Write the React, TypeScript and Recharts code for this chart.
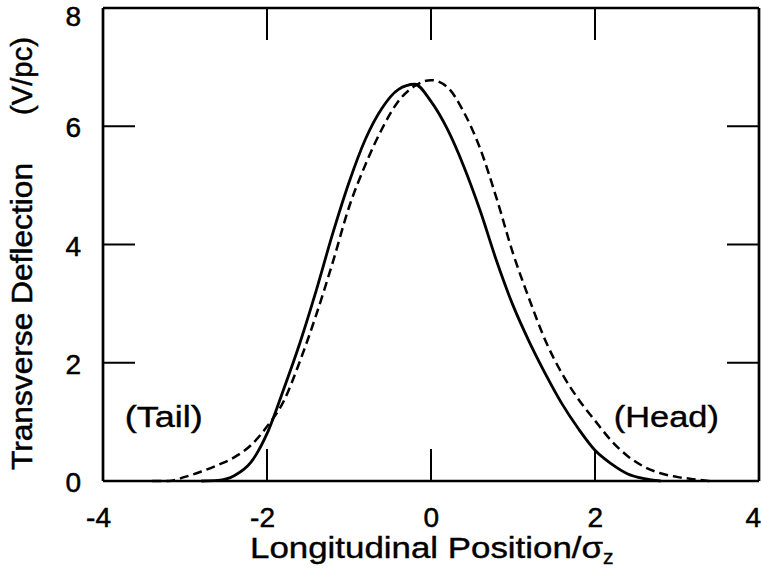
import { Line, LineChart, ReferenceDot, ReferenceLine, XAxis, YAxis } from "recharts";

// longitudinal position (units of sigma_z)
const POSITIONS = [
  -4, -3.8, -3.6, -3.4, -3.2, -3, -2.8, -2.6, -2.4, -2.2, -2, -1.8, -1.6, -1.4, -1.2, -1, -0.8, -0.6, -0.4, -0.2, 0,
  0.2, 0.4, 0.6, 0.8, 1, 1.2, 1.4, 1.6, 1.8, 2, 2.2, 2.4, 2.6, 2.8, 3, 3.2, 3.4, 3.6, 3.8, 4,
];

// transverse deflection (V/pc), solid curve
const SOLID = [
  null, null, null, null, null, null, 0, 0.01, 0.09, 0.31, 0.8, 1.54, 2.33, 3.22, 4.18, 5.05, 5.78, 6.3, 6.62, 6.71, 6.42,
  5.95, 5.32, 4.57, 3.72, 2.97, 2.35, 1.8, 1.3, 0.88, 0.52, 0.29, 0.12, 0.04, 0, null, null, null, null, null, null,
];

// transverse deflection (V/pc), dashed curve
const DASHED = [
  null, null, null, 0, 0, 0.07, 0.16, 0.27, 0.4, 0.6, 0.92, 1.34, 2.02, 2.81, 3.69, 4.63, 5.35, 5.95, 6.42, 6.68, 6.78,
  6.66, 6.24, 5.62, 4.78, 3.85, 3.07, 2.36, 1.81, 1.38, 1.02, 0.68, 0.42, 0.24, 0.13, 0.07, 0.03, 0, null, null, null,
];

const X_TICKS = [-4, -2, 0, 2, 4];
const Y_TICKS = [0, 2, 4, 6, 8];

const WIDTH = 762;
const HEIGHT = 570;
const LEFT = 103;
const RIGHT = 759;
const TOP = 8;
const BOTTOM = 481;
const Y_AXIS_W = 60;
const X_AXIS_H = 70;
const TICK_LEN = 32;
const FONT = "'Liberation Sans', Arial, Helvetica, sans-serif";

const rows = POSITIONS.map((x, i) => ({ x, solid: SOLID[i], dashed: DASHED[i] }));

function XTick(props: any) {
  const { x, payload } = props;
  const v = payload.value as number;
  const inner = v !== X_TICKS[0] && v !== X_TICKS[X_TICKS.length - 1];
  return (
    <g>
      {inner && <line x1={x} x2={x} y1={BOTTOM} y2={BOTTOM - TICK_LEN} stroke="#000" strokeWidth={2} />}
      {inner && <line x1={x} x2={x} y1={TOP} y2={TOP + TICK_LEN} stroke="#000" strokeWidth={2} />}
      <text
        x={Math.min(x + 8, WIDTH - 1)}
        y={527}
        textAnchor="end"
        fontSize={28}
        fontFamily={FONT}
        fill="#000"
        stroke="#000"
        strokeWidth={0.5}
      >
        {v}
      </text>
    </g>
  );
}

function YTick(props: any) {
  const { y, payload } = props;
  const v = payload.value as number;
  const inner = v !== Y_TICKS[0] && v !== Y_TICKS[Y_TICKS.length - 1];
  return (
    <g>
      {inner && <line x1={LEFT} x2={LEFT + TICK_LEN} y1={y} y2={y} stroke="#000" strokeWidth={2} />}
      {inner && <line x1={RIGHT} x2={RIGHT - TICK_LEN} y1={y} y2={y} stroke="#000" strokeWidth={2} />}
      <text
        x={81}
        y={Math.max(y + 11, 26)}
        textAnchor="end"
        fontSize={28}
        fontFamily={FONT}
        fill="#000"
        stroke="#000"
        strokeWidth={0.5}
      >
        {v}
      </text>
    </g>
  );
}

function YLabel() {
  return (
    <g fontFamily={FONT} fontSize={30} fill="#000" stroke="#000" strokeWidth={0.5}>
      <text x={32} y={470} transform="rotate(-90 32 470)" textLength={307} lengthAdjust="spacingAndGlyphs">
        Transverse Deflection
      </text>
      <text x={32} y={115} transform="rotate(-90 32 115)" textLength={78} lengthAdjust="spacingAndGlyphs">
        (V/pc)
      </text>
    </g>
  );
}

function XLabel() {
  return (
    <text x={250} y={558} fontFamily={FONT} fontSize={30} fill="#000" stroke="#000" strokeWidth={0.4}>
      <tspan textLength={353} lengthAdjust="spacingAndGlyphs">
        Longitudinal Position/σ
      </tspan>
      <tspan fontSize={21} dy={6}>
        z
      </tspan>
    </text>
  );
}

function Note(props: any) {
  const { cx, cy, text, width } = props;
  return (
    <text
      x={cx}
      y={cy + 11}
      textAnchor="middle"
      fontFamily={FONT}
      fontSize={30}
      fill="#000"
      stroke="#000"
      strokeWidth={0.4}
      textLength={width}
      lengthAdjust="spacingAndGlyphs"
    >
      {text}
    </text>
  );
}

export default function App() {
  return (
    <div style={{ position: "absolute", left: 0, top: 0, background: "#fff" }}>
      <LineChart
        width={WIDTH}
        height={HEIGHT}
        data={rows}
        margin={{ top: TOP, right: WIDTH - RIGHT, bottom: HEIGHT - BOTTOM - X_AXIS_H, left: LEFT - Y_AXIS_W }}
      >
        <XAxis
          type="number"
          dataKey="x"
          domain={[-4, 4]}
          ticks={X_TICKS}
          height={X_AXIS_H}
          tickLine={false}
          axisLine={{ stroke: "#000", strokeWidth: 2.7 }}
          tick={<XTick />}
          interval={0}
          label={<XLabel />}
        />
        <YAxis
          type="number"
          domain={[0, 8]}
          ticks={Y_TICKS}
          width={Y_AXIS_W}
          tickLine={false}
          axisLine={{ stroke: "#000", strokeWidth: 2.7 }}
          tick={<YTick />}
          interval={0}
          label={<YLabel />}
        />
        <ReferenceLine y={8} stroke="#000" strokeWidth={2.7} />
        <ReferenceLine x={4} stroke="#000" strokeWidth={2.7} />
        <Line
          type="monotone"
          dataKey="solid"
          stroke="#000"
          strokeWidth={2.8}
          dot={false}
          activeDot={false}
          isAnimationActive={false}
        />
        <Line
          type="monotone"
          dataKey="dashed"
          stroke="#000"
          strokeWidth={2.5}
          strokeDasharray="9 5"
          dot={false}
          activeDot={false}
          isAnimationActive={false}
        />
        <ReferenceDot
          x={-3.26}
          y={1.1}
          r={0}
          stroke="none"
          fill="none"
          label={(p: any) => <Note cx={p.viewBox.x + p.viewBox.width / 2} cy={p.viewBox.y + p.viewBox.height / 2} text="(Tail)" width={78} />}
        />
        <ReferenceDot
          x={2.87}
          y={1.1}
          r={0}
          stroke="none"
          fill="none"
          label={(p: any) => <Note cx={p.viewBox.x + p.viewBox.width / 2} cy={p.viewBox.y + p.viewBox.height / 2} text="(Head)" width={105} />}
        />
      </LineChart>
    </div>
  );
}
